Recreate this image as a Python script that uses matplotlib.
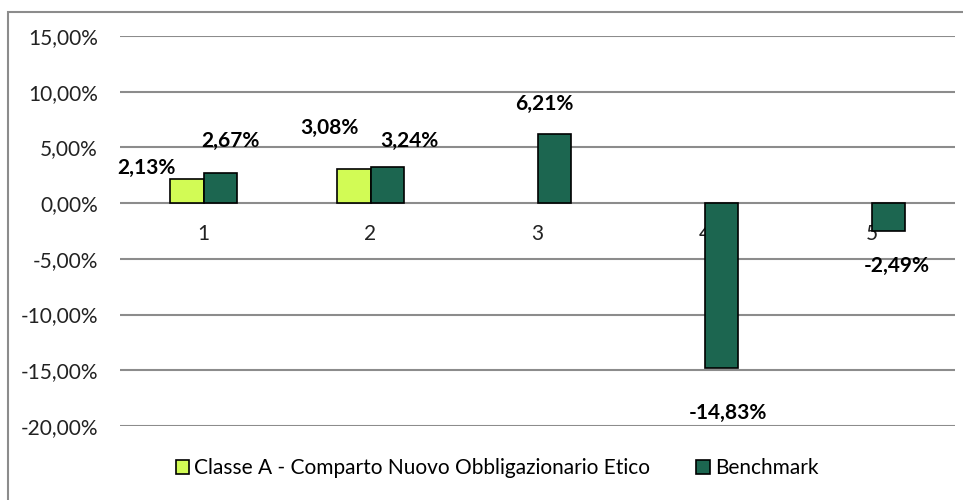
import matplotlib.pyplot as plt
import numpy as np
from matplotlib.patches import Rectangle

categories = ["1", "2", "3", "4", "5"]
classe_a = [2.13, 3.08, np.nan, np.nan, np.nan]
benchmark = [2.67, 3.24, 6.21, -14.83, -2.49]
series_names = ["Classe A - Comparto Nuovo Obbligazionario Etico", "Benchmark"]
yticks = [15, 10, 5, 0, -5, -10, -15, -20]

# label offsets in pixels (dx, dy), as placed in the original
off_a = [(-40, 11), (-24, 41)]
off_b = [(10, 32), (22, 26), (-10, 30), (7, -45), (9, -35)]

plt.rcParams['font.family'] = ['Lato', 'DejaVu Sans']
FS = 15

fig = plt.figure(figsize=(9.63, 5), dpi=100)
fig.patches.append(Rectangle((8 / 963, -0.01), 1.0, 1 - 12 / 500 + 0.01,
                             transform=fig.transFigure, fill=False,
                             edgecolor="#8c8c8c", linewidth=1.5))
ax = fig.add_axes([120 / 963, 1 - 426 / 500, 835 / 963, 390 / 500])

x = np.arange(len(categories))
w = 0.2
ax.bar(x - w / 2, classe_a, w, color="#d2fb55", edgecolor="black", linewidth=1.2,
       label=series_names[0], zorder=3)
ax.bar(x + w / 2, benchmark, w, color="#1c6650", edgecolor="black", linewidth=1.2,
       label=series_names[1], zorder=3)

def fmt(v):
    return ("%.2f%%" % v).replace(".", ",")

px = 72 / 100
for i, v in enumerate(classe_a):
    if np.isnan(v):
        continue
    dx, dy = off_a[i]
    ax.annotate(fmt(v), (x[i] - w / 2, v), xytext=(dx * px, dy * px),
                textcoords="offset points", ha="center", va="center",
                fontsize=FS, fontweight="bold")
for i, v in enumerate(benchmark):
    dx, dy = off_b[i]
    ax.annotate(fmt(v), (x[i] + w / 2, v), xytext=(dx * px, dy * px),
                textcoords="offset points", ha="center", va="center",
                fontsize=FS, fontweight="bold")

ax.spines['bottom'].set_position(('data', 0))
ax.spines['bottom'].set_visible(False)
for s in ['top', 'right', 'left']:
    ax.spines[s].set_visible(False)

ax.set_xlim(-0.5, len(categories) - 0.5)
ax.set_ylim(-20, 15)
ax.set_yticks(yticks)
ax.set_yticklabels([fmt(t) for t in yticks])
ax.yaxis.grid(True, color="#8c8c8c", linewidth=1.5, zorder=0)
ax.set_xticks(x)
ax.set_xticklabels(categories)
ax.tick_params(axis='x', length=0, pad=15, labelsize=FS, labelcolor="#222222")
ax.tick_params(axis='y', length=0, pad=16, labelsize=FS, labelcolor="#222222")

fig.legend(loc="center", bbox_to_anchor=(497 / 963, 1 - 468 / 500), ncol=2,
           frameon=False, fontsize=FS, handlelength=0.65, handleheight=0.65,
           handletextpad=0.25, columnspacing=2.2)

fig.savefig("out.png", dpi=100)
